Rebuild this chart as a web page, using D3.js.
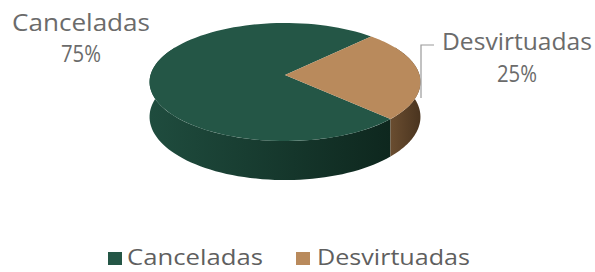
<!DOCTYPE html>
<html><head><meta charset="utf-8">
<script src="https://cdn.jsdelivr.net/npm/d3@7"></script>
<style>body{margin:0;background:#fff}svg{display:block}</style>
</head><body><svg id="c" width="595" height="272"></svg>
<script>
// ---- data ----
const categories = ["Canceladas", "Desvirtuadas"];
const values = [75, 25];
const pctLabels = ["75%", "25%"];

// ---- styles / layout ----
const topColor = d3.scaleOrdinal().domain(categories).range(["#245646", "#b98a5c"]);
const sideColors = { "Canceladas": ["#1f4c3e", "#0e271e"], "Desvirtuadas": ["#6a4d30", "#4a341f"] };
const cx = 285, cy = 75, R = 134.5, ry = 58.2, p = 0.1186, depth = 34.4;
const FONT = "'Open Sans', 'Noto Sans', sans-serif";

const svg = d3.select("#c");
const defs = svg.append("defs");

const pie = d3.pie().sort(null).value(d => d.v)
  .startAngle(134 * Math.PI / 180).endAngle(494 * Math.PI / 180);
const arcs = pie(categories.map((c, i) => ({ c, v: values[i], p: pctLabels[i] })));

// perspective projection of a point on the rim (d3 angle a)
const k = a => 1 / (1 + p * Math.cos(a));
const px = a => cx + R * Math.sin(a) * k(a);
const py = a => cy - ry * Math.cos(a) * k(a);
const pyb = a => py(a) + depth * k(a);

function topPath(d) {
  const n = 90, pts = [[cx, cy]];
  for (let i = 0; i <= n; i++) {
    const a = d.startAngle + (d.endAngle - d.startAngle) * i / n;
    pts.push([px(a), py(a)]);
  }
  return d3.line()(pts) + "Z";
}

// visible front range (generous; top faces cover the rest)
function sideRanges(d) {
  const out = [];
  const T = 2 * Math.PI, lo = 60 * Math.PI / 180, hi = 300 * Math.PI / 180;
  for (let kk = -1; kk <= 2; kk++) {
    const s = Math.max(d.startAngle, lo + kk * T), e = Math.min(d.endAngle, hi + kk * T);
    if (e > s) out.push([s, e]);
  }
  return out;
}
function sidePath(s, e) {
  const n = 70, pts = [];
  for (let i = 0; i <= n; i++) { const a = s + (e - s) * i / n; pts.push([px(a), py(a)]); }
  for (let i = n; i >= 0; i--) { const a = s + (e - s) * i / n; pts.push([px(a), pyb(a)]); }
  return d3.line()(pts) + "Z";
}

// sides
arcs.forEach((d, i) => {
  sideRanges(d).forEach((r, j) => {
    const id = "g" + i + "_" + j;
    const xs = d3.range(0, 21).map(t => px(r[0] + (r[1] - r[0]) * t / 20));
    const g = defs.append("linearGradient").attr("id", id).attr("gradientUnits", "userSpaceOnUse")
      .attr("x1", d3.min(xs)).attr("x2", d3.max(xs)).attr("y1", 0).attr("y2", 0);
    g.append("stop").attr("offset", "0").attr("stop-color", sideColors[d.data.c][0]);
    g.append("stop").attr("offset", "1").attr("stop-color", sideColors[d.data.c][1]);
    svg.append("path").attr("d", sidePath(r[0], r[1])).attr("fill", "url(#" + id + ")");
  });
});
// tops
svg.selectAll("path.top").data(arcs).join("path").attr("class", "top")
  .attr("d", topPath).attr("fill", d => topColor(d.data.c));

// leader line for Desvirtuadas
svg.append("polyline").attr("points", "434,45 421,45 421,98")
  .attr("fill", "none").attr("stroke", "#9a9a9a").attr("stroke-width", 1.2);

function fitText(sel, w) {
  sel.attr("textLength", w).attr("lengthAdjust", "spacingAndGlyphs");
}

// data labels
const labelPos = [
  { x: 81, y1: 31, y2: 62, w1: 138, w2: 40 },
  { x: 517, y1: 50, y2: 82, w1: 150, w2: 40 }
];
arcs.forEach((d, i) => {
  const q = labelPos[i];
  const t1 = svg.append("text").attr("x", q.x).attr("y", q.y1).attr("text-anchor", "middle")
    .attr("font-family", FONT).attr("font-size", 24).attr("fill", "#6b6b6b").text(d.data.c);
  fitText(t1, q.w1);
  const t2 = svg.append("text").attr("x", q.x).attr("y", q.y2).attr("text-anchor", "middle")
    .attr("font-family", FONT).attr("font-size", 24).attr("fill", "#6b6b6b").text(d.data.p);
  fitText(t2, q.w2);
});

// legend
const legendPos = [{ sx: 108, tx: 127, w: 136 }, { sx: 296, tx: 317, w: 153 }];
categories.forEach((c, i) => {
  const q = legendPos[i];
  svg.append("rect").attr("x", q.sx).attr("y", 252).attr("width", 14).attr("height", 13)
    .attr("fill", topColor(c));
  const t = svg.append("text").attr("x", q.tx).attr("y", 265)
    .attr("font-family", FONT).attr("font-size", 21).attr("fill", "#5f5f5f").text(c);
  fitText(t, q.w);
});
</script></body></html>
